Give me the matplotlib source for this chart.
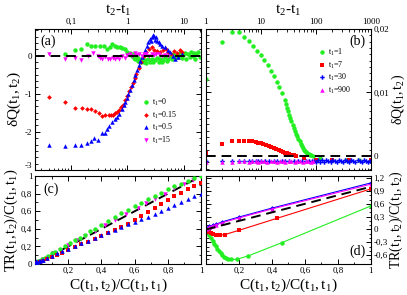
import numpy as np
import matplotlib
matplotlib.use('Agg')
import matplotlib.pyplot as plt
from matplotlib.ticker import FuncFormatter, MultipleLocator, AutoMinorLocator, LogLocator, NullFormatter, FixedLocator

plt.rcParams['font.family'] = ['Liberation Serif', 'DejaVu Serif']
plt.rcParams['mathtext.fontset'] = 'custom'
plt.rcParams['mathtext.rm'] = 'Liberation Serif'
plt.rcParams['mathtext.it'] = 'Liberation Serif:italic'

GREEN = '#22ee22'
RED = '#ff0000'
BLUE = '#0000ff'
MAG = '#ff00ff'

# ---- panel (a) : dQ vs t2-t1, short t1
a_green_t = [0.08, 0.117, 0.153, 0.19, 0.23, 0.27, 0.33, 0.38, 0.44, 0.50, 0.54, 0.60, 0.66, 0.75, 0.82, 0.92,
             1.0, 1.06, 1.13, 1.2, 1.25, 1.32, 1.4, 1.48, 1.56, 1.65, 1.75, 1.85, 1.95, 2.05, 2.2, 2.35, 2.55,
             2.7, 2.9, 3.1, 3.35, 3.6, 3.8, 4.1, 4.4, 4.7, 5.0, 5.4, 5.8, 6.2, 6.6, 7.1, 7.6, 8.1, 8.7, 9.3,
             9.9, 10.6, 11.3, 12.1, 13.0, 13.8, 14.5, 15.3, 16.0, 17.0, 18.3, 19.5]
a_green_q = [0.05, 0.14, 0.18, 0.31, 0.26, 0.26, 0.26, 0.25, 0.18, 0.22, 0.31, 0.26, 0.22, 0.22, 0.20, 0.18,
             0.10, 0.05, 0.08, -0.02, 0.03, -0.06, -0.10, -0.05, -0.13, -0.08, -0.16, -0.10, -0.18, -0.12,
             -0.20, -0.10, -0.16, -0.08, -0.18, -0.12, -0.06, -0.16, -0.10, -0.18, -0.12, -0.05, -0.14, -0.08,
             -0.02, -0.10, 0.03, -0.06, 0.05, -0.04, 0.08, -0.06, 0.02, 0.07, -0.08, 0.04, -0.05, 0.10, -0.02,
             0.06, -0.08, 0.03, 0.10, -0.04]

a_red_t = [0.04, 0.08, 0.117, 0.158, 0.194, 0.23, 0.27, 0.32, 0.36, 0.41, 0.47, 0.52, 0.56, 0.61, 0.67, 0.72,
           0.78, 0.84, 0.92, 1.0, 1.08, 1.16, 1.25, 1.35, 1.45, 1.59, 1.75, 1.95, 2.15, 2.4, 2.7, 3.0, 3.4,
           3.8, 4.3, 4.8, 5.4, 6.0, 6.8, 7.6, 8.5, 9.5]
a_red_q = [-1.08, -1.22, -1.37, -1.38, -1.39, -1.40, -1.46, -1.51, -1.58, -1.57, -1.55, -1.56, -1.55, -1.51,
           -1.48, -1.43, -1.36, -1.30, -1.17, -1.05, -0.93, -0.83, -0.72, -0.60, -0.48, -0.33, -0.16, 0.0,
           0.10, 0.18, 0.22, 0.15, 0.12, 0.10, 0.15, 0.18, 0.10, 0.05, 0.12, 0.08, 0.15, 0.10]

a_blue_t = [0.04, 0.08, 0.117, 0.153, 0.19, 0.23, 0.26, 0.30, 0.35, 0.40, 0.44, 0.48, 0.54, 0.61, 0.66, 0.72,
            0.81, 0.87, 0.92, 0.98, 1.05, 1.13, 1.21, 1.30, 1.39, 1.49, 1.59, 1.70, 1.82, 1.95, 2.08, 2.22,
            2.38, 2.55, 2.65, 2.73, 2.85, 3.0, 3.1, 3.2, 3.35, 3.6, 3.84, 4.2, 4.7, 5.2, 5.8, 6.4, 7.1, 8.1, 9.3]
a_blue_q = [-2.34, -2.38, -2.34, -2.34, -2.30, -2.23, -2.15, -2.21, -2.04, -2.02, -1.93, -1.85, -1.74, -1.66,
            -1.62, -1.52, -1.40, -1.30, -1.23, -1.12, -1.02, -0.90, -0.76, -0.63, -0.50, -0.37, -0.25, -0.14,
            -0.03, 0.05, 0.14, 0.25, 0.35, 0.43, 0.38, 0.50, 0.55, 0.52, 0.42, 0.48, 0.39, 0.35, 0.31, 0.25,
            0.22, 0.15, 0.09, 0.0, -0.08, -0.03, 0.05]

a_mag_t = [0.04, 0.08, 0.117, 0.153, 0.2, 0.25, 0.3, 0.33, 0.36, 0.4, 0.45, 0.5, 0.55, 0.6, 0.66, 0.72, 0.8,
           0.9, 1.0, 1.1, 1.2, 1.35, 1.5, 1.65, 1.8, 2.0, 2.2, 2.4, 2.7, 3.0, 3.3, 3.7, 4.1, 4.6, 5.2]
a_mag_q = [0.05, -0.10, -0.06, -0.12, 0.0, 0.08, -0.02, -0.06, -0.09, -0.05, -0.08, -0.10, -0.06, -0.10,
           -0.04, -0.08, -0.02, -0.06, 0.02, 0.05, 0.0, 0.06, 0.02, 0.03, 0.0, 0.05, 0.03, 0.0, 0.04, 0.02,
           0.05, 0.03, 0.0, 0.02, 0.0]

# ---- panel (b) : dQ vs t2-t1, long t1
b_green_t = [1, 2, 3, 4, 5, 6, 7.2, 8.5, 10, 11.5, 13.2, 15, 17, 19.3, 21.6, 24.2, 27, 28.5, 30, 31.5, 33,
             34.5, 36, 38, 40, 42, 44, 46, 48, 50.5, 53, 55.5, 58, 61, 64, 67, 70, 74, 78, 83, 88,
             120, 200, 350, 600, 1000]
b_green_q = [0.0121, 0.0179, 0.0195, 0.0195, 0.0188, 0.0181, 0.0173, 0.0166, 0.0159, 0.0151, 0.0143, 0.0134,
             0.0126, 0.0117, 0.0108, 0.0099, 0.0088, 0.0082, 0.0076, 0.0070, 0.0065, 0.0060, 0.0055, 0.0049,
             0.0044, 0.0039, 0.0035, 0.0031, 0.0027, 0.0023, 0.0019, 0.0016, 0.0013, 0.0010, 0.0008, 0.0006,
             0.0005, 0.0003, 0.0002, 0.0001, 0.0, -0.0004, -0.0006, -0.0006, -0.0006, -0.0006]

b_red_t = [1, 2, 3, 4, 5, 6, 7, 8, 9, 10, 11, 12.5, 14, 15.5, 17, 19, 21, 23, 25, 27.5, 30, 33, 36, 40, 44,
           60, 100, 200, 400, 1000]
b_red_q = [0.0004, 0.0019, 0.0023, 0.0024, 0.0024, 0.0024, 0.0023, 0.0022, 0.0021, 0.0020, 0.0019, 0.0017,
           0.0016, 0.0014, 0.0013, 0.0011, 0.0009, 0.0008, 0.0006, 0.0005, 0.0004, 0.0003, 0.0002, 0.0001,
           0.0, -0.0004, -0.0006, -0.0006, -0.0006, -0.0006]

b_blue_t = [1, 2, 3, 4, 5, 6, 7, 8, 9, 10, 12, 14, 17, 20, 24, 28, 33, 40, 47, 55, 65, 75, 85, 92, 100, 110,
            120, 130, 142, 155, 170, 185, 200, 220, 240, 262, 285, 310, 340, 370, 405, 440, 480, 525, 575,
            625, 680, 740, 810, 880, 960, 1000]
b_blue_q = [-0.0008, -0.0008, -0.0008, -0.0008, -0.0008, -0.0008, -0.0008, -0.0008, -0.0008, -0.0008,
            -0.0008, -0.0008, -0.0008, -0.0008, -0.0008, -0.0008, -0.0008, -0.0008, -0.0008, -0.0008,
            -0.0008, -0.0008, -0.0008, -0.0008, -0.0009, -0.0007, -0.0009, -0.0007, -0.0009, -0.0007,
            -0.0008, -0.0009, -0.0007, -0.0008, -0.0009, -0.0007, -0.0008, -0.0009, -0.0007, -0.0008,
            -0.0009, -0.0007, -0.0008, -0.0009, -0.0007, -0.0008, -0.0009, -0.0007, -0.0008, -0.0009,
            -0.0008, -0.0008]

b_mag_t = [1, 2, 3, 4, 5, 6, 7, 8, 9, 10, 11.5, 13, 15, 17, 19.5, 22, 25, 28, 32, 36, 41, 46, 52, 58, 65, 72, 80, 90]
b_mag_q = [-0.0009, -0.0009, -0.0009, -0.0008, -0.0008, -0.0009, -0.0008, -0.0008, -0.0009, -0.0008, -0.0008,
           -0.0009, -0.0008, -0.0008, -0.0009, -0.0008, -0.0008, -0.0009, -0.0008, -0.0008, -0.0009, -0.0008,
           -0.0008, -0.0009, -0.0008, -0.0008, -0.0009, -0.0008]

# ---- panel (c) : TR/C vs C/C
c_green_x = [0.005, 0.01, 0.02, 0.03, 0.045, 0.06, 0.08, 0.1, 0.12, 0.15, 0.18, 0.21, 0.24, 0.27, 0.3, 0.33,
             0.36, 0.4, 0.44, 0.48, 0.52, 0.56, 0.6, 0.64, 0.68, 0.72, 0.76, 0.8, 0.84, 0.88, 0.92, 0.96, 1.0]
c_green_y = [0.01, 0.015, 0.03, 0.04, 0.055, 0.07, 0.095, 0.12, 0.14, 0.175, 0.21, 0.24, 0.27, 0.30, 0.335,
             0.37, 0.40, 0.445, 0.49, 0.535, 0.575, 0.615, 0.655, 0.695, 0.735, 0.775, 0.81, 0.85, 0.885,
             0.915, 0.95, 0.98, 1.0]
c_mag_x = [0.005, 0.015, 0.03, 0.05, 0.08, 0.11, 0.15, 0.2, 0.25, 0.3, 0.36, 0.42, 0.48, 0.55, 0.62, 0.67,
           0.72, 0.78, 0.84, 0.9, 0.95, 1.0]
c_mag_y = [0.01, 0.02, 0.035, 0.055, 0.085, 0.12, 0.16, 0.215, 0.27, 0.32, 0.38, 0.44, 0.5, 0.57, 0.64,
           0.69, 0.74, 0.8, 0.86, 0.91, 0.96, 1.0]
c_red_x = [0.005, 0.015, 0.03, 0.05, 0.07, 0.1, 0.13, 0.16, 0.2, 0.24, 0.28, 0.32, 0.36, 0.4, 0.44, 0.48,
           0.52, 0.56, 0.6, 0.64, 0.68, 0.72, 0.76, 0.8, 0.84, 0.88, 0.92, 0.96, 1.0]
c_red_y = [0.005, 0.012, 0.025, 0.04, 0.055, 0.08, 0.105, 0.13, 0.16, 0.19, 0.225, 0.255, 0.29, 0.32, 0.355,
           0.385, 0.42, 0.46, 0.505, 0.55, 0.595, 0.64, 0.685, 0.725, 0.77, 0.81, 0.85, 0.89, 0.92]
c_blue_x = [0.003, 0.008, 0.015, 0.022, 0.03, 0.04, 0.05, 0.07, 0.1, 0.13, 0.16, 0.2, 0.24, 0.28, 0.32, 0.36,
            0.4, 0.44, 0.48, 0.52, 0.56, 0.6, 0.64, 0.68, 0.72, 0.76, 0.8, 0.84, 0.88, 0.92, 0.96, 1.0]
c_blue_y = [0.01, 0.03, 0.02, 0.04, 0.035, 0.05, 0.05, 0.07, 0.095, 0.12, 0.145, 0.175, 0.205, 0.235, 0.265,
            0.3, 0.33, 0.36, 0.39, 0.42, 0.45, 0.48, 0.51, 0.54, 0.57, 0.605, 0.64, 0.675, 0.71, 0.74, 0.77,
            0.80]

# ---- panel (d) : TR/C vs C/C, long t1
d_green_x = [0.0, 0.005, 0.01, 0.02, 0.03, 0.04, 0.05, 0.06, 0.07, 0.08, 0.09, 0.1, 0.11, 0.12, 0.135, 0.15,
             0.186, 0.256, 0.46, 1.0]
d_green_y = [0.0, -0.02, -0.06, -0.14, -0.2, -0.27, -0.33, -0.39, -0.45, -0.5, -0.55, -0.6, -0.64, -0.67,
             -0.69, -0.70, -0.70, -0.62, -0.31, 0.55]
d_red_x = [0.0, 0.01, 0.02, 0.03, 0.045, 0.06, 0.075, 0.085, 0.115, 0.2, 0.43, 1.0]
d_red_y = [0.0, -0.03, -0.06, -0.09, -0.11, -0.13, -0.135, -0.13, -0.12, -0.02, 0.26, 0.95]
d_blue_x = [0.0, 0.01, 0.02, 0.04, 0.06, 0.1, 0.2, 0.4, 1.0]
d_blue_y = [0.0, 0.04, 0.07, 0.10, 0.12, 0.18, 0.29, 0.50, 1.09]
d_mag_x = [0.0, 0.01, 0.02, 0.04, 0.06, 0.1, 0.2, 0.4, 1.0]
d_mag_y = [0.0, 0.03, 0.06, 0.09, 0.11, 0.16, 0.27, 0.48, 1.06]

diag = [0, 1]

def comma(v, pos):
    s = '%g' % v
    return s.replace('.', ',')

fig = plt.figure(figsize=(4.07, 2.95), dpi=100)
axa = fig.add_axes([0.086, 0.424, 0.408, 0.478])
axb = fig.add_axes([0.506, 0.424, 0.405, 0.478])
axc = fig.add_axes([0.086, 0.105, 0.408, 0.298])
axd = fig.add_axes([0.506, 0.105, 0.405, 0.298])

for ax in (axa, axb, axc, axd):
    ax.tick_params(which='both', direction='in', top=True, bottom=True, left=True, right=True,
                   labelsize=6.5, pad=2)
    ax.tick_params(which='major', length=3.5, width=0.7)
    ax.tick_params(which='minor', length=1.8, width=0.6)
    for s in ax.spines.values():
        s.set_linewidth(0.8)

ms = 3.2
leg_kw = dict(loc='upper left', frameon=False, fontsize=5.8, handlelength=1.0,
              handletextpad=0.2, labelspacing=0.2, borderpad=0, borderaxespad=0)
# (a)
axa.plot(a_green_t, a_green_q, 'o', color=GREEN, ms=ms, mew=0, label=r'$\mathrm{t_1}$=0')
axa.plot(a_red_t, a_red_q, 'D', color=RED, ms=2.4, mew=0, label=r'$\mathrm{t_1}$=0.15')
axa.plot(a_blue_t, a_blue_q, '^', color=BLUE, ms=ms, mew=0, label=r'$\mathrm{t_1}$=0.5')
axa.plot(a_mag_t, a_mag_q, 'v', color=MAG, ms=ms, mew=0, label=r'$\mathrm{t_1}$=15')
axa.axhline(0, color='k', ls=(0, (5, 3)), lw=1.4, zorder=5)
axa.set_xscale('log')
axa.set_xlim(0.023, 20.5)
axa.set_ylim(-3, 0.7)
axa.xaxis.set_major_locator(FixedLocator([0.1, 1, 10]))
axa.xaxis.set_minor_locator(LogLocator(subs=np.arange(2, 10)))
axa.xaxis.set_major_formatter(FuncFormatter(comma))
axa.xaxis.set_minor_formatter(NullFormatter())
axa.yaxis.set_major_locator(MultipleLocator(1))
axa.yaxis.set_minor_locator(AutoMinorLocator(6))
axa.yaxis.set_major_formatter(FuncFormatter(comma))
axa.tick_params(labelbottom=False, labeltop=True)
axa.xaxis.set_label_position('top')
axa.set_xlabel(r'$\mathrm{t_2}$-$\mathrm{t_1}$', fontsize=11, labelpad=3)
axa.set_ylabel(r'$\mathrm{δQ(t_1,t_2)}$', fontsize=11, labelpad=1)
axa.text(0.03, 0.96, '(a)', transform=axa.transAxes, fontsize=10, va='top', ha='left')
axa.legend(bbox_to_anchor=(0.645, 0.52), **leg_kw)

# (b)
axb.plot(b_green_t, b_green_q, 'o', color=GREEN, ms=ms, mew=0, label=r'$\mathrm{t_1}$=1')
axb.plot(b_red_t, b_red_q, 's', color=RED, ms=2.6, mew=0, label=r'$\mathrm{t_1}$=7')
axb.plot(b_blue_t, b_blue_q, 'P', color=BLUE, ms=ms, mew=0, label=r'$\mathrm{t_1}$=30')
axb.plot(b_mag_t, b_mag_q, '^', color=MAG, ms=ms, mew=0, label=r'$\mathrm{t_1}$=900')
axb.axhline(0, color='k', ls=(0, (5, 3)), lw=1.4, zorder=5)
axb.set_xscale('log')
axb.set_xlim(1, 1000)
axb.set_ylim(-0.0022, 0.02)
axb.xaxis.set_major_locator(FixedLocator([1, 10, 100, 1000]))
axb.xaxis.set_minor_locator(LogLocator(subs=np.arange(2, 10)))
axb.xaxis.set_major_formatter(FuncFormatter(comma))
axb.xaxis.set_minor_formatter(NullFormatter())
axb.yaxis.set_major_locator(MultipleLocator(0.01))
axb.yaxis.set_minor_locator(AutoMinorLocator(10))
axb.yaxis.set_major_formatter(FuncFormatter(comma))
axb.tick_params(labelbottom=False, labeltop=True, labelleft=False, labelright=True)
axb.xaxis.set_label_position('top')
axb.yaxis.set_label_position('right')
axb.set_xlabel(r'$\mathrm{t_2}$-$\mathrm{t_1}$', fontsize=11, labelpad=3)
axb.set_ylabel(r'$\mathrm{δQ(t_1,t_2)}$', fontsize=10, labelpad=0)
axb.text(0.97, 0.96, '(b)', transform=axb.transAxes, fontsize=10, va='top', ha='right')
axb.legend(bbox_to_anchor=(0.68, 0.875), **leg_kw)

# (c)
axc.plot(diag, diag, color='k', ls=(0, (5, 3)), lw=1.4, zorder=1)
axc.plot(c_green_x, c_green_y, 'o', color=GREEN, ms=ms, mew=0, zorder=3)
axc.plot(c_mag_x, c_mag_y, 'v', color=MAG, ms=ms, mew=0, zorder=2)
axc.plot(c_red_x, c_red_y, 's', color=RED, ms=2.4, mew=0, zorder=3)
axc.plot(c_blue_x, c_blue_y, '^', color=BLUE, ms=ms, mew=0, zorder=4)
axc.set_xlim(0, 1)
axc.set_ylim(0, 1)
axc.xaxis.set_major_locator(FixedLocator([0.2, 0.4, 0.6, 0.8, 1.0]))
axc.xaxis.set_minor_locator(MultipleLocator(0.1))
axc.yaxis.set_major_locator(MultipleLocator(0.2))
axc.yaxis.set_minor_locator(MultipleLocator(0.1))
axc.xaxis.set_major_formatter(FuncFormatter(comma))
axc.yaxis.set_major_formatter(FuncFormatter(comma))
axc.set_xlabel(r'$\mathrm{C(t_1,t_2)/C(t_1,t_1)}$', fontsize=11, labelpad=1)
axc.set_ylabel(r'$\mathrm{TR(t_1,t_2)/C(t_1,t_1)}$', fontsize=10.5, labelpad=1)
axc.text(0.05, 0.93, '(c)', transform=axc.transAxes, fontsize=10, va='top', ha='left')

# (d)
axd.plot(diag, diag, color='k', ls=(0, (5, 3)), lw=1.4, zorder=5)
axd.plot(d_green_x, d_green_y, '-o', color=GREEN, lw=0.8, ms=ms, mew=0)
axd.plot(d_red_x, d_red_y, '-s', color=RED, lw=0.8, ms=2.6, mew=0)
axd.plot(d_blue_x, d_blue_y, '-D', color=BLUE, lw=0.8, ms=2.4, mew=0)
axd.plot(d_mag_x, d_mag_y, '-^', color=MAG, lw=0.8, ms=ms, mew=0)
axd.set_xlim(0, 1)
axd.set_ylim(-0.81, 1.25)
axd.xaxis.set_major_locator(FixedLocator([0.2, 0.4, 0.6, 0.8, 1.0]))
axd.xaxis.set_minor_locator(MultipleLocator(0.1))
axd.yaxis.set_major_locator(MultipleLocator(0.3))
axd.yaxis.set_minor_locator(MultipleLocator(0.1))
axd.xaxis.set_major_formatter(FuncFormatter(comma))
axd.yaxis.set_major_formatter(FuncFormatter(comma))
axd.tick_params(labelleft=False, labelright=True)
axd.yaxis.set_label_position('right')
axd.set_xlabel(r'$\mathrm{C(t_1,t_2)/C(t_1,t_1)}$', fontsize=11, labelpad=1)
axd.set_ylabel(r'$\mathrm{TR(t_1,t_2)/C(t_1,t_2)}$', fontsize=10, labelpad=0)
axd.text(0.97, 0.07, '(d)', transform=axd.transAxes, fontsize=10, va='bottom', ha='right')

# lift the lowest label of (a) a little so it clears the "1" of (c)
fig.canvas.draw()
for lab in axa.get_yticklabels():
    if lab.get_text() == '-3':
        lab.set_va('bottom')

fig.savefig('out.png', dpi=100)
